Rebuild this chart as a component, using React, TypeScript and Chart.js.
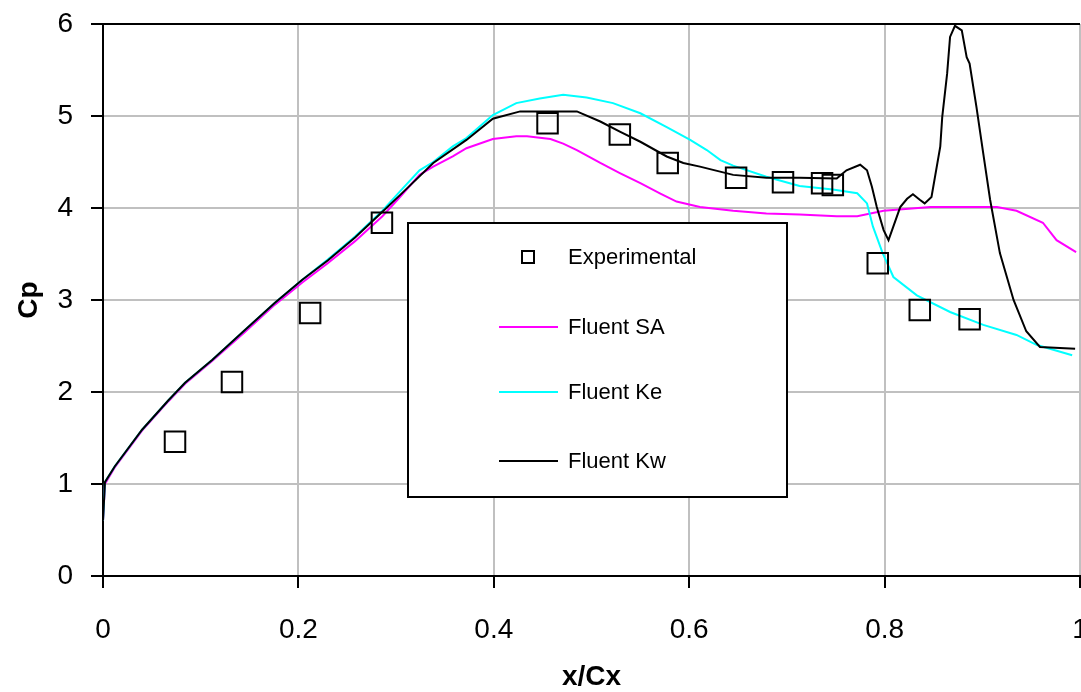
import React, { useEffect, useRef } from "react";
import { Chart, registerables } from "chart.js";

Chart.register(...registerables);

// ---- data ----
const seriesLabels = ["Experimental", "Fluent SA", "Fluent Ke", "Fluent Kw"];
const seriesColors = ["#000000", "#ff00ff", "#00ffff", "#000000"];

const expX = [0.0737, 0.132, 0.212, 0.2855, 0.455, 0.529, 0.578, 0.648, 0.696, 0.736, 0.747, 0.793, 0.836, 0.887];
const expY = [1.46, 2.11, 2.86, 3.84, 4.92, 4.8, 4.49, 4.33, 4.28, 4.27, 4.25, 3.4, 2.89, 2.79];

const saX = [0, 0.002, 0.012, 0.04, 0.067, 0.084, 0.112, 0.145, 0.176, 0.204, 0.23, 0.258, 0.286, 0.304, 0.324, 0.338, 0.358, 0.372, 0.399, 0.423, 0.434, 0.458, 0.471, 0.485, 0.509, 0.529, 0.55, 0.57, 0.587, 0.611, 0.645, 0.679, 0.713, 0.751, 0.772, 0.799, 0.847, 0.915, 0.935, 0.962, 0.976, 0.996];
const saY = [0.6, 1.0, 1.18, 1.58, 1.9, 2.09, 2.34, 2.65, 2.95, 3.19, 3.4, 3.64, 3.91, 4.12, 4.36, 4.45, 4.56, 4.65, 4.75, 4.78, 4.78, 4.75, 4.7, 4.63, 4.49, 4.38, 4.27, 4.16, 4.07, 4.01, 3.97, 3.94, 3.93, 3.91, 3.91, 3.97, 4.01, 4.01, 3.97, 3.84, 3.65, 3.52];

const keX = [0, 0.002, 0.012, 0.04, 0.067, 0.084, 0.112, 0.145, 0.176, 0.204, 0.23, 0.258, 0.286, 0.304, 0.324, 0.338, 0.358, 0.372, 0.399, 0.423, 0.447, 0.471, 0.495, 0.522, 0.55, 0.577, 0.601, 0.618, 0.632, 0.645, 0.679, 0.713, 0.747, 0.772, 0.782, 0.788, 0.798, 0.809, 0.833, 0.867, 0.901, 0.935, 0.956, 0.992];
const keY = [0.6, 1.02, 1.19, 1.59, 1.91, 2.1, 2.35, 2.67, 2.97, 3.22, 3.44, 3.69, 3.97, 4.18, 4.41, 4.5, 4.67, 4.76, 5.01, 5.14, 5.19, 5.23, 5.2, 5.14, 5.03, 4.88, 4.74, 4.63, 4.52, 4.46, 4.34, 4.24, 4.2, 4.16, 4.05, 3.8, 3.51, 3.25, 3.05, 2.87, 2.73, 2.62, 2.51, 2.4];

const kwX = [0, 0.002, 0.012, 0.04, 0.067, 0.084, 0.112, 0.145, 0.176, 0.204, 0.23, 0.258, 0.286, 0.304, 0.338, 0.372, 0.399, 0.427, 0.485, 0.509, 0.529, 0.55, 0.577, 0.594, 0.611, 0.645, 0.679, 0.713, 0.751, 0.761, 0.775, 0.782, 0.787, 0.792, 0.799, 0.804, 0.809, 0.816, 0.823, 0.829, 0.836, 0.841, 0.848, 0.857, 0.859, 0.864, 0.867, 0.872, 0.879, 0.884, 0.887, 0.894, 0.901, 0.908, 0.918, 0.932, 0.945, 0.959, 0.995];
const kwY = [0.6, 1.02, 1.19, 1.59, 1.91, 2.1, 2.35, 2.67, 2.97, 3.22, 3.43, 3.68, 3.96, 4.14, 4.49, 4.74, 4.97, 5.05, 5.05, 4.94, 4.83, 4.72, 4.56, 4.49, 4.45, 4.36, 4.33, 4.33, 4.32, 4.41, 4.47, 4.41, 4.23, 4.01, 3.76, 3.65, 3.8, 4.01, 4.1, 4.15, 4.09, 4.05, 4.12, 4.67, 4.99, 5.46, 5.86, 5.98, 5.93, 5.64, 5.57, 5.1, 4.59, 4.09, 3.51, 3.0, 2.66, 2.49, 2.47];

const xTickStep = 0.2;
const yTickStep = 1;
const xTitle = "x/Cx";
const yTitle = "Cp";

const FONT = "'Liberation Sans', Arial, sans-serif";

const pts = (xs: number[], ys: number[]) => xs.map((x, i) => ({ x, y: ys[i] }));

const legendPlugin = {
  id: "boxLegend",
  afterDraw(chart: any) {
    const ctx = chart.ctx;
    const ds = chart.data.datasets;
    const bx = 408, by = 223, bw = 379, bh = 274;
    ctx.save();
    ctx.fillStyle = "#ffffff";
    ctx.fillRect(bx, by, bw, bh);
    ctx.strokeStyle = "#000";
    ctx.lineWidth = 2;
    ctx.strokeRect(bx, by, bw, bh);
    const rows = [257, 327, 392, 461];
    ctx.font = `22px ${FONT}`;
    ctx.textBaseline = "middle";
    ctx.textAlign = "left";
    ds.forEach((d: any, i: number) => {
      const y = rows[i];
      ctx.strokeStyle = d.borderColor;
      ctx.lineWidth = 2;
      if (!d.showLine) {
        ctx.strokeRect(522, y - 6, 12, 12);
      } else {
        ctx.beginPath();
        ctx.moveTo(499, y);
        ctx.lineTo(558, y);
        ctx.stroke();
      }
      ctx.fillStyle = "#000";
      ctx.fillText(d.label, 568, y + 1);
    });
    ctx.restore();
  },
};

export default function App() {
  const ref = useRef<HTMLCanvasElement | null>(null);
  useEffect(() => {
    if (!ref.current) return;
    const chart = new Chart(ref.current, {
      type: "scatter",
      data: {
        datasets: [
          {
            label: seriesLabels[0],
            data: pts(expX, expY),
            showLine: false,
            pointStyle: "rect",
            pointRadius: 14.5,
            pointBorderWidth: 2,
            borderColor: seriesColors[0],
            pointBorderColor: seriesColors[0],
            backgroundColor: "rgba(0,0,0,0)",
            pointBackgroundColor: "rgba(0,0,0,0)",
            order: 0,
          },
          {
            label: seriesLabels[1],
            data: pts(saX, saY),
            showLine: true,
            borderColor: seriesColors[1],
            borderWidth: 2,
            pointRadius: 0,
            tension: 0,
            order: 3,
          },
          {
            label: seriesLabels[2],
            data: pts(keX, keY),
            showLine: true,
            borderColor: seriesColors[2],
            borderWidth: 2,
            pointRadius: 0,
            tension: 0,
            order: 2,
          },
          {
            label: seriesLabels[3],
            data: pts(kwX, kwY),
            showLine: true,
            borderColor: seriesColors[3],
            borderWidth: 2,
            pointRadius: 0,
            tension: 0,
            order: 1,
          },
        ],
      },
      options: {
        responsive: false,
        animation: false,
        events: [],
        layout: { padding: { top: 24, right: 50, left: 0, bottom: 0 } },
        plugins: { legend: { display: false }, tooltip: { enabled: false } },
        scales: {
          x: {
            type: "linear",
            min: 0,
            max: 1,
            afterFit: (s: any) => { s.height = 116; },
            ticks: {
              stepSize: xTickStep,
              color: "#000",
              font: { family: FONT, size: 28 },
              padding: 25,
              callback: (v: any) => String(Math.round(Number(v) * 10) / 10),
            },
            grid: {
              color: "#c0c0c0",
              lineWidth: 2,
              tickColor: "#000",
              tickLength: 12,
              tickWidth: 2,
            },
            border: { display: true, color: "#000", width: 2 },
            title: {
              display: true,
              text: xTitle,
              color: "#000",
              font: { family: FONT, size: 28, weight: "bold", lineHeight: 1 },
              padding: { top: 0, bottom: 1 },
            },
          },
          y: {
            type: "linear",
            min: 0,
            max: 6,
            afterFit: (s: any) => { s.width = 103; },
            ticks: {
              stepSize: yTickStep,
              color: "#000",
              font: { family: FONT, size: 28, lineHeight: 0.4 },
              padding: 18,
            },
            grid: {
              color: (c: any) => (c.tick && c.tick.value === 6 ? "#000" : "#c0c0c0"),
              lineWidth: 2,
              tickColor: "#000",
              tickLength: 12,
              tickWidth: 2,
            },
            border: { display: true, color: "#000", width: 2 },
            title: {
              display: true,
              text: yTitle,
              color: "#000",
              font: { family: FONT, size: 28, weight: "bold", lineHeight: 1 },
              padding: { top: 15, bottom: 0 },
            },
          },
        },
      },
      plugins: [legendPlugin],
    } as any);
    return () => chart.destroy();
  }, []);

  return (
    <div style={{ position: "fixed", left: 0, top: 0, width: 1081, height: 692, overflow: "hidden", background: "#fff" }}>
      <canvas ref={ref} width={1130} height={692} style={{ display: "block", width: 1130, height: 692 }} />
    </div>
  );
}
